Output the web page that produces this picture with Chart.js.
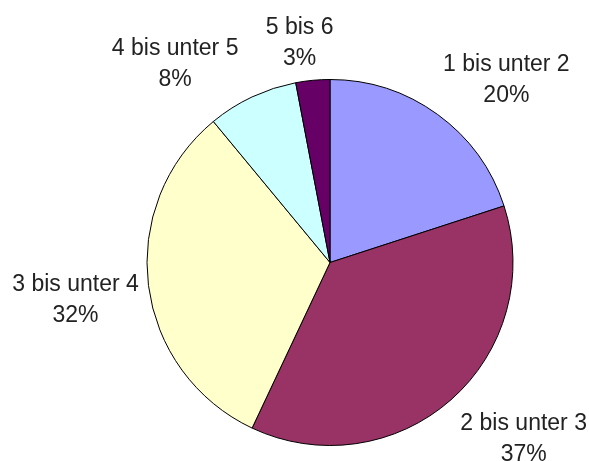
<!DOCTYPE html>
<html>
<head>
<meta charset="utf-8">
<script src="https://cdn.jsdelivr.net/npm/chart.js@4/dist/chart.umd.min.js"></script>
<style>
  html, body { margin: 0; padding: 0; background: #ffffff; }
  canvas { display: block; }
</style>
</head>
<body>
<canvas id="pie" width="589" height="461"></canvas>
<script>
// Notenverteilung in Klassen
const categories = ['1 bis unter 2', '2 bis unter 3', '3 bis unter 4', '4 bis unter 5', '5 bis 6'];
const shares = [20, 37, 32, 8, 3];
const sliceColors = ['#9999FF', '#993366', '#FFFFCC', '#CCFFFF', '#660066'];

// Label placement: angular nudge (degrees) from the slice middle and distance in radii
const labelPlacement = [
  { turn: 7.7, reach: 1.395 },
  { turn: -6.6, reach: 1.424 },
  { turn: -0.7, reach: 1.404 },
  { turn: -12.4, reach: 1.387 },
  { turn: -2.4, reach: 1.225 }
];

const outsideLabels = {
  id: 'outsideLabels',
  afterDatasetsDraw(chart) {
    const ctx = chart.ctx;
    const meta = chart.getDatasetMeta(0);
    const values = chart.data.datasets[0].data;
    const total = values.reduce((a, b) => a + b, 0);
    ctx.save();
    ctx.font = '23px "Liberation Sans", Arial, sans-serif';
    ctx.fillStyle = '#222222';
    ctx.textAlign = 'center';
    ctx.textBaseline = 'alphabetic';
    meta.data.forEach((arc, i) => {
      const p = arc.getProps(['x', 'y', 'startAngle', 'endAngle', 'outerRadius'], true);
      const place = labelPlacement[i];
      const a = (p.startAngle + p.endAngle) / 2 + place.turn * Math.PI / 180;
      const cx = p.x + Math.cos(a) * p.outerRadius * place.reach;
      const cy = p.y + Math.sin(a) * p.outerRadius * place.reach;
      const pct = Math.round(values[i] / total * 100) + '%';
      ctx.fillText(chart.data.labels[i], cx, cy - 6.5);
      ctx.fillText(pct, cx, cy + 24.5);
    });
    ctx.restore();
  }
};

new Chart(document.getElementById('pie'), {
  type: 'pie',
  data: {
    labels: categories,
    datasets: [{
      data: shares,
      backgroundColor: sliceColors,
      borderColor: '#000000',
      borderWidth: 1,
      borderJoinStyle: 'miter'
    }]
  },
  options: {
    responsive: false,
    animation: false,
    layout: { padding: { left: 146, right: 75, top: 79, bottom: 15 } },
    plugins: {
      legend: { display: false },
      tooltip: { enabled: false }
    }
  },
  plugins: [outsideLabels]
});
</script>
</body>
</html>
